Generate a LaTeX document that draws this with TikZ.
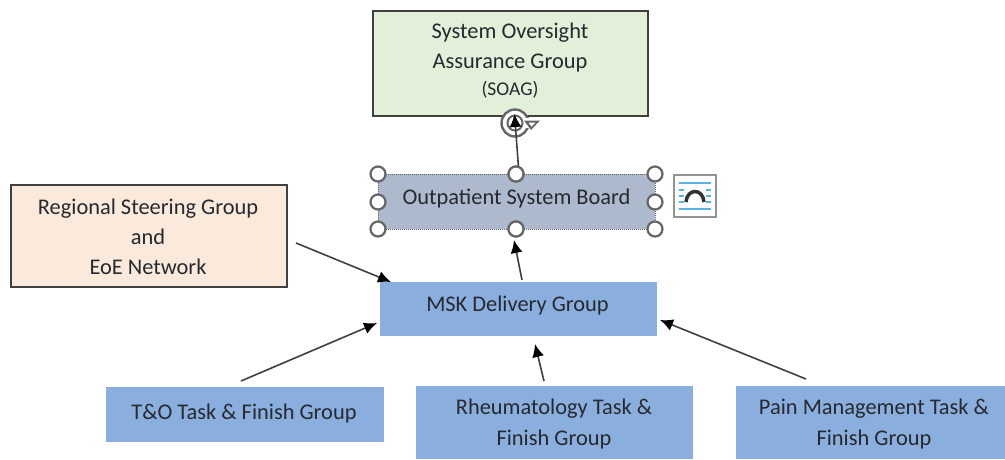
\documentclass[tikz,border=0pt]{standalone}
\usepackage{fontspec}
\setmainfont{Carlito}
\usetikzlibrary{arrows.meta}
\definecolor{gbox}{HTML}{E2EFD9}
\definecolor{obox}{HTML}{FBE9DB}
\definecolor{bbox}{HTML}{8AAFDF}
\definecolor{sbox}{HTML}{ADB9CC}
\definecolor{edge}{HTML}{404040}
\definecolor{txt}{HTML}{26292E}
\definecolor{hnd}{HTML}{666666}
\definecolor{lin}{HTML}{5BB0E8}
\tikzset{
  x=1pt,y=-1pt,
  box/.style={minimum width=#1,inner sep=0pt,outer sep=0pt,anchor=north west},
  lbl/.style={text=txt,align=center,inner sep=0pt,font=\fontsize{22.4}{30.5}\selectfont},
  plainbox/.style={fill=bbox,draw=none},
  framed/.style={draw=edge,line width=2pt},
  conn/.style={draw=edge,line width=1.6pt,-{Latex[length=13pt,width=12pt,black]}},
  handle/.style={circle,draw=hnd,fill=white,line width=2.2pt,minimum size=15pt,inner sep=0pt},
}
\begin{document}
\begin{tikzpicture}
\useasboundingbox (0,0) rectangle (1005,459);
% boxes
\node[box=275pt,framed,fill=gbox,minimum height=105pt] (soag) at (373,11) {};
\node[box=277pt,fill=sbox,draw=hnd,densely dotted,line width=1pt,minimum height=55pt] (osb) at (378,174) {};
\node[box=276pt,framed,fill=obox,minimum height=102pt] (reg) at (11,185) {};
\node[box=277pt,plainbox,minimum height=54pt] (msk) at (380,282) {};
\node[box=278pt,plainbox,minimum height=55pt] (to) at (106,387) {};
\node[box=277pt,plainbox,minimum height=73pt] (rh) at (416,386) {};
\node[box=269pt,plainbox,minimum height=73pt] (pain) at (736,386) {};
% texts
\node[lbl] (soagt) at (510,47.5) {System Oversight\\Assurance Group};
\node[lbl,font=\fontsize{19.5}{22}\selectfont] (soagc) at (510,90) {(SOAG)};
\node[lbl] (osbt) at (516.5,199) {Outpatient System Board};
\node[lbl,font=\fontsize{22.4}{30}\selectfont] (regt) at (148,236.5) {Regional Steering Group\\and\\EoE Network};
\node[lbl] (mskt) at (517.5,305.5) {MSK Delivery Group};
\node[lbl] (tot) at (244,413.5) {T\&O Task \& Finish Group};
\node[lbl] (rht) at (554,424) {Rheumatology Task \&\\Finish Group};
\node[lbl] (paint) at (874,424) {Pain Management Task \&\\Finish Group};
% free connector ends
\coordinate (a1) at (296,243); \coordinate (a2) at (391,282);
\coordinate (b1) at (241,381); \coordinate (b2) at (377,323);
\coordinate (c1) at (544,381); \coordinate (c2) at (535,344);
\coordinate (d1) at (806,379); \coordinate (d2) at (660,320);
\coordinate (e1) at (522,280); \coordinate (e2) at (514,240);
\coordinate (f1) at (519,174); \coordinate (f2) at (514.5,114);
% selection handles
\foreach \n/\px/\py in {h1/378/174,h2/516/174,h3/655/174,h4/378/202,h5/655/202,h6/378/229,h7/516/229,h8/655/229}
  \node[handle] (\n) at (\px,\py) {};
% rotate handle
\node[circle,draw=hnd,fill=white,line width=2.4pt,minimum size=27pt,inner sep=0pt] (rot) at (515,123) {};
\node[circle,draw=hnd,line width=2pt,minimum size=15pt,inner sep=0pt] (roti) at (515,123) {};
\fill[white] (526,118) rectangle (531,128);
\fill[hnd] (524,120.5) -- (540,120.5) -- (531,130) -- cycle;
\fill[white] (528.5,122.5) -- (535.5,122.5) -- (531.5,126.5) -- cycle;
% connectors
\draw[conn] (a1) -- (a2);
\draw[conn] (b1) -- (b2);
\draw[conn] (c1) -- (c2);
\draw[conn] (d1) -- (d2);
\draw[conn] (e1) -- (e2);
\draw[conn] (f1) -- (f2);
\node[handle] (h2b) at (516,174) {};
\node[handle] (h7b) at (516,229) {};
% layout options icon
\node[draw=hnd!70,fill=white,line width=1.5pt,minimum width=42pt,minimum height=42pt,inner sep=0pt] (ico) at (695,196) {};
\draw[lin,line width=2pt] (679,183) -- (711,183) (679,208.5) -- (711,208.5);
\draw[lin,line width=2pt] (679,190) -- (684,190) (706,190) -- (711,190) (679,196) -- (684,196) (706,196) -- (711,196) (679,202) -- (684,202) (706,202) -- (711,202);
\draw[black!80,line width=3.5pt] (686,202) .. controls (687,188) and (703,188) .. (704,202);
\end{tikzpicture}
\end{document}
